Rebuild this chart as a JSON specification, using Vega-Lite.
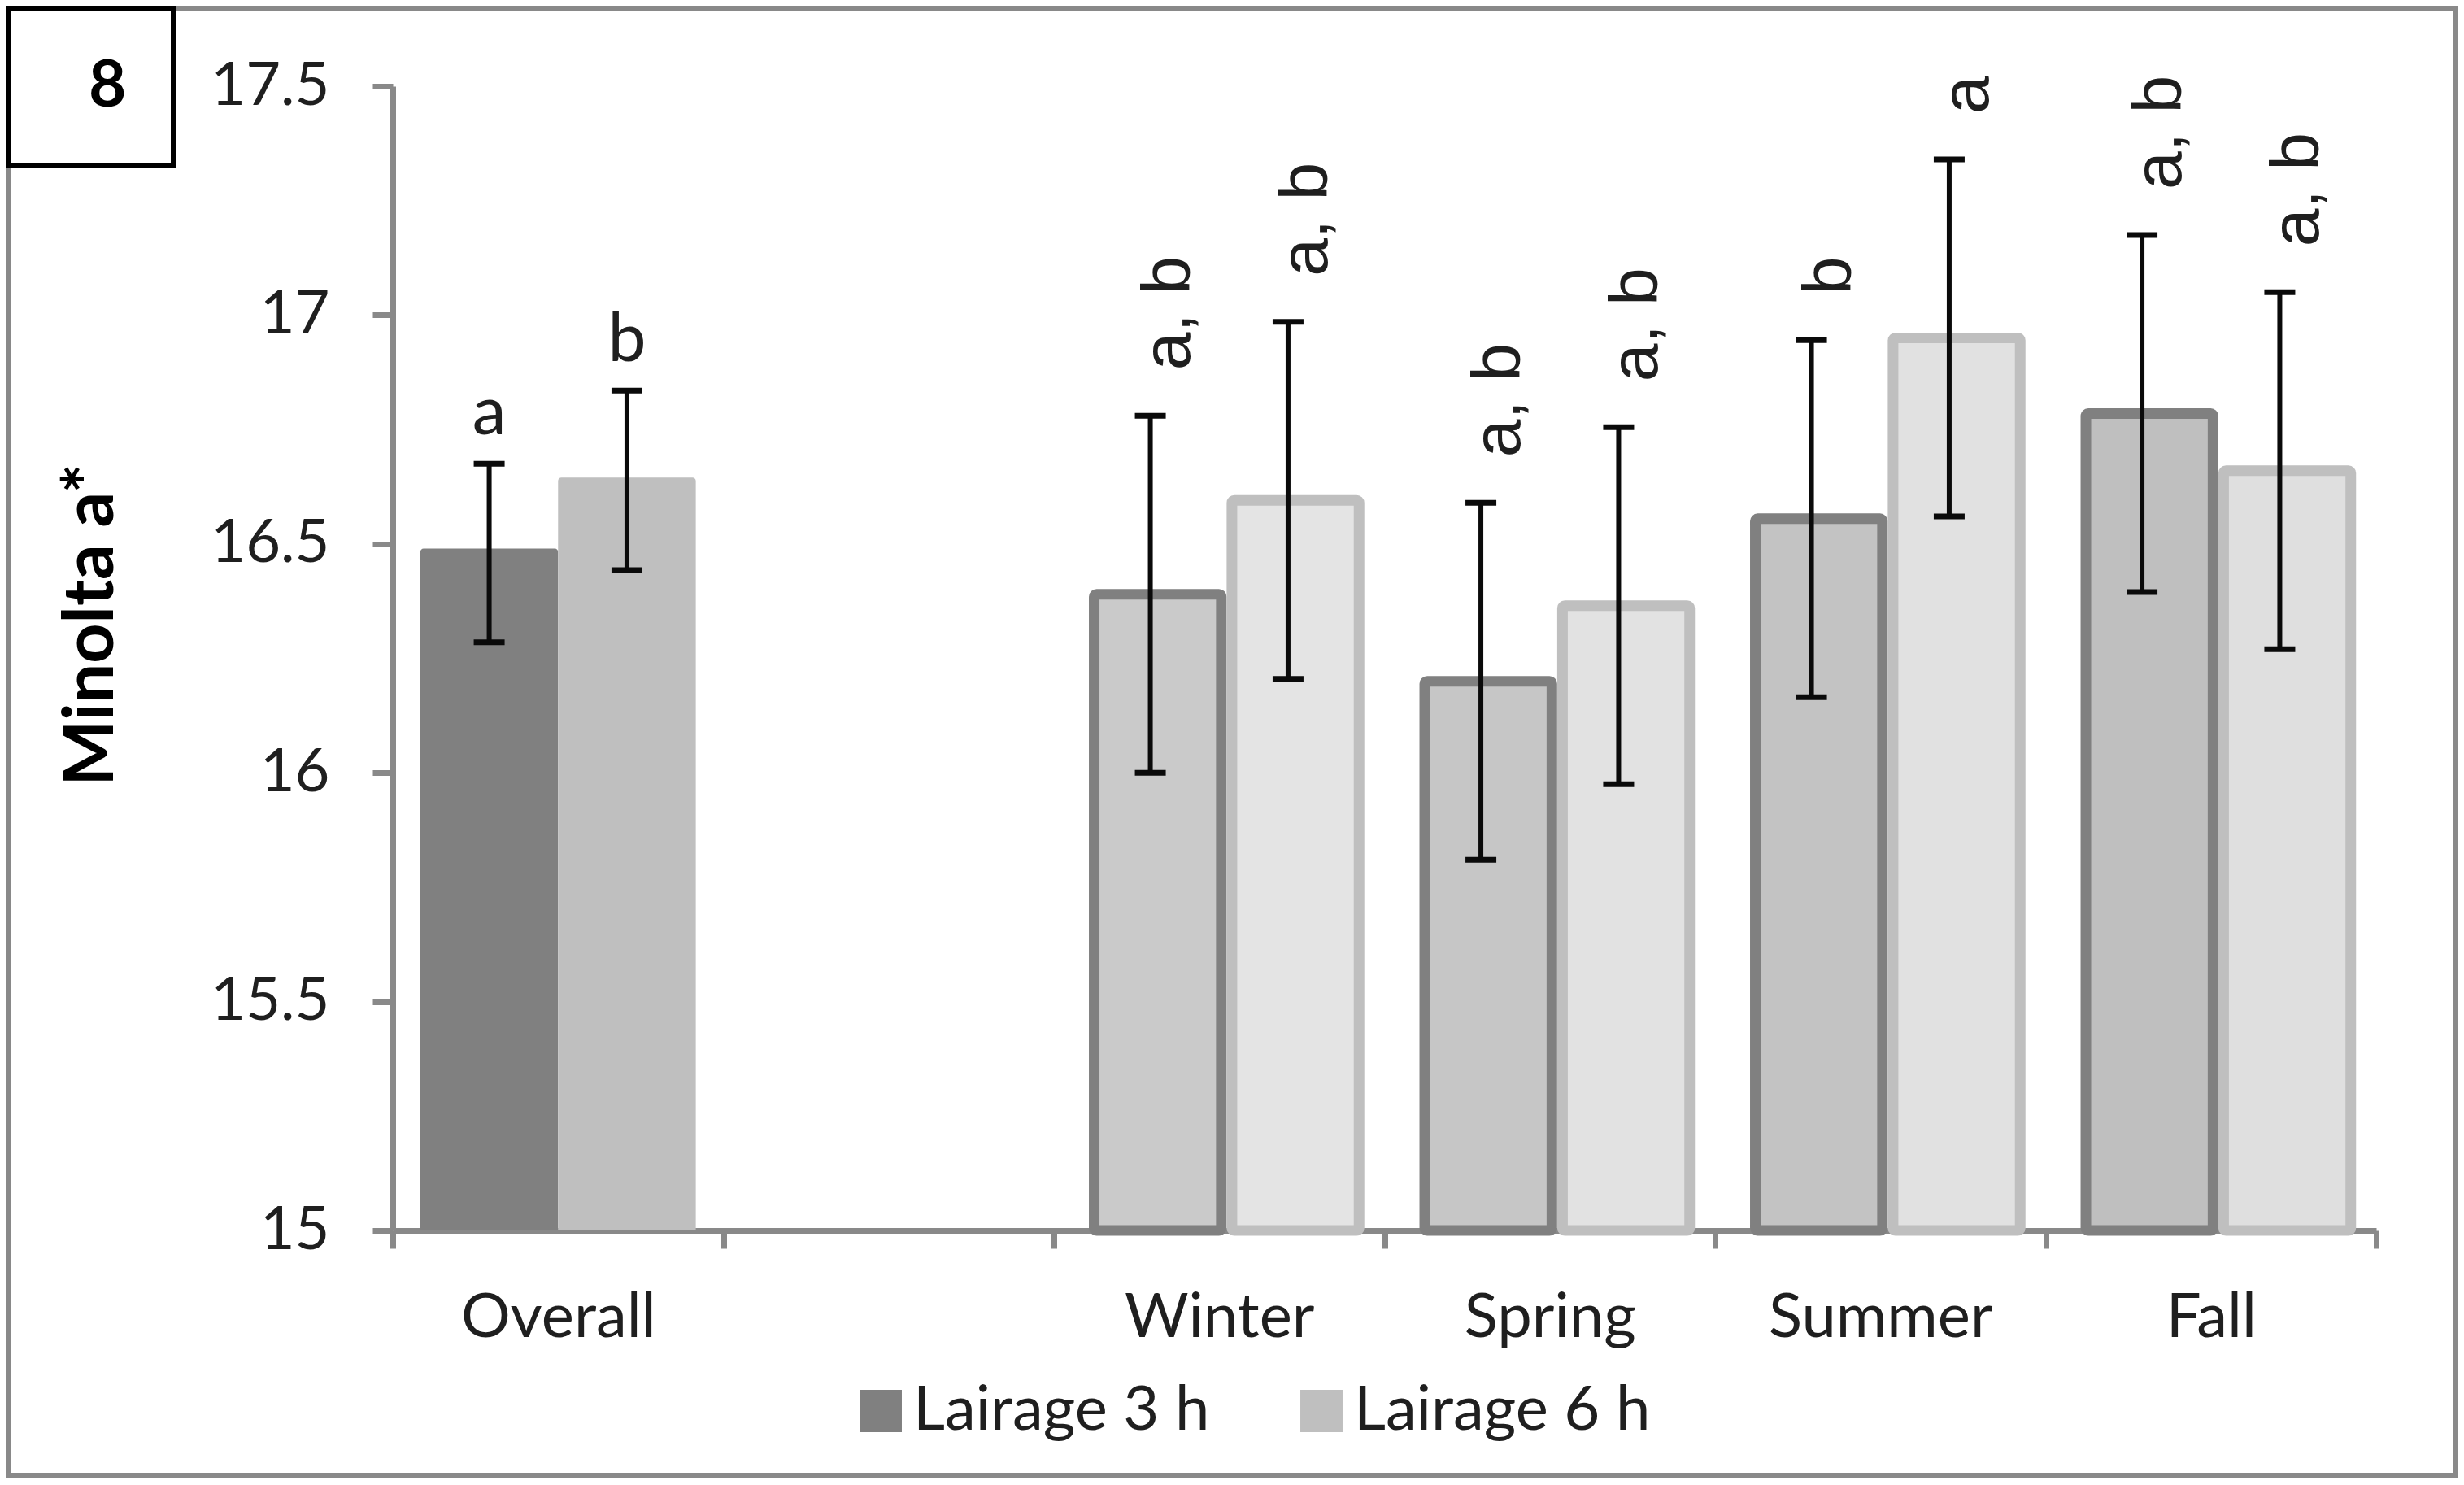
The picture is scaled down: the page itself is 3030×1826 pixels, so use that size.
{
  "$schema": "https://vega.github.io/schema/vega-lite/v6.json",
  "autosize": {"type": "none"},
  "padding": {"left": 10, "top": 10, "right": 10, "bottom": 12},
  "width": 3010,
  "height": 1804,
  "background": "white",
  "config": {
    "view": {"stroke": "#898989", "strokeWidth": 6},
    "font": "Lato",
    "axis": {"zindex": 1, "grid": false, "domainColor": "#898989", "domainWidth": 7, "tickColor": "#898989", "tickWidth": 7, "labelFont": "Lato", "labelColor": "#1f1f1f", "labelLimit": 0},
    "axisY": {"offset": -473, "tickSize": 25, "labelPadding": 53, "labelFontSize": 74, "tickCount": 5, "format": "~g",
      "titleFont": "Lato", "titleFontWeight": "bold", "titleFontSize": 86, "titleColor": "#000000",
      "titleAngle": 270, "titleX": -345, "titleY": 758, "titleAlign": "center", "titleBaseline": "alphabetic"},
    "axisX": {"offset": -301, "tickSize": 22, "tickBand": "extent", "labelPadding": 48, "labelFontSize": 76, "labelAngle": 0},
    "legend": {"strokeWidth": 6, "labelLimit": 0}
  },
  "data": {"values": [
    {"group": "Overall", "lairage": "Lairage 3 h", "mean": 16.49, "lower": 16.285, "upper": 16.675, "letter": "a"},
    {"group": "Overall", "lairage": "Lairage 6 h", "mean": 16.645, "lower": 16.443, "upper": 16.835, "letter": "b"},
    {"group": "Winter", "lairage": "Lairage 3 h", "mean": 16.39, "lower": 16.0, "upper": 16.78, "letter": "a, b"},
    {"group": "Winter", "lairage": "Lairage 6 h", "mean": 16.595, "lower": 16.205, "upper": 16.985, "letter": "a, b"},
    {"group": "Spring", "lairage": "Lairage 3 h", "mean": 16.2, "lower": 15.81, "upper": 16.59, "letter": "a, b"},
    {"group": "Spring", "lairage": "Lairage 6 h", "mean": 16.365, "lower": 15.975, "upper": 16.755, "letter": "a, b"},
    {"group": "Summer", "lairage": "Lairage 3 h", "mean": 16.555, "lower": 16.165, "upper": 16.945, "letter": "b"},
    {"group": "Summer", "lairage": "Lairage 6 h", "mean": 16.95, "lower": 16.56, "upper": 17.34, "letter": "a"},
    {"group": "Fall", "lairage": "Lairage 3 h", "mean": 16.785, "lower": 16.395, "upper": 17.175, "letter": "a, b"},
    {"group": "Fall", "lairage": "Lairage 6 h", "mean": 16.66, "lower": 16.27, "upper": 17.05, "letter": "a, b"}
  ]},
  "encoding": {
    "x": {"field": "group", "type": "nominal", "title": null,
      "scale": {"domain": ["Overall", " ", "Winter", "Spring", "Summer", "Fall"], "range": [473, 2912], "paddingInner": 0, "paddingOuter": 0}},
    "xOffset": {"field": "lairage", "type": "nominal", "scale": {"paddingInner": 0, "paddingOuter": 0.2}}
  },
  "layer": [
    {
      "transform": [{"filter": "datum.group === 'Overall'"}],
      "mark": {"type": "bar", "cornerRadiusTopLeft": 4, "cornerRadiusTopRight": 4},
      "encoding": {
        "y": {"field": "mean", "type": "quantitative", "title": "Minolta a*",
          "scale": {"domain": [15, 17.5], "range": [1503, 96], "nice": false, "zero": false}},
        "y2": {"datum": 15},
        "fill": {"field": "lairage", "type": "nominal",
          "scale": {"domain": ["Lairage 3 h", "Lairage 6 h"], "range": ["#808080", "#bfbfbf"]},
          "legend": {"orient": "none", "legendX": 1035, "legendY": 1687, "direction": "horizontal", "title": null,
            "padding": 0, "symbolType": "square", "symbolSize": 2700, "symbolStrokeWidth": 0, "symbolOpacity": 1,
            "labelFont": "Lato", "labelFontSize": 76, "labelColor": "#1f1f1f", "labelOffset": 2, "columnPadding": 99}}
      }
    },
    {
      "transform": [{"filter": "datum.group !== 'Overall'"}],
      "mark": {"type": "bar", "strokeWidth": 13, "width": {"band": 0.923}, "cornerRadius": 3},
      "encoding": {
        "y": {"field": "mean", "type": "quantitative", "title": "Minolta a*"},
        "y2": {"datum": 15},
        "fill": {"field": "lairage", "type": "nominal"},
        "stroke": {"field": "lairage", "type": "nominal",
          "scale": {"domain": ["Lairage 3 h", "Lairage 6 h"], "range": ["#808080", "#bfbfbf"]}, "legend": null},
        "fillOpacity": {"field": "group", "type": "nominal",
          "scale": {"domain": ["Winter", "Spring", "Summer", "Fall"], "range": [0.42, 0.5, 0.52, 0.33]}, "legend": null}
      }
    },
    {
      "mark": {"type": "rule", "strokeWidth": 6, "color": "#0a0a0a"},
      "encoding": {
        "y": {"field": "lower", "type": "quantitative", "title": "Minolta a*"},
        "y2": {"field": "upper"},
        "strokeDash": {"datum": "8",
          "legend": {"orient": "none", "legendX": 0, "legendY": 0, "title": null, "padding": 57,
            "symbolSize": 0, "symbolOpacity": 0, "symbolStrokeWidth": 0, "labelOffset": -38,
            "labelFont": "Lato", "labelFontWeight": "bold", "labelFontSize": 80, "labelColor": "#000000",
            "strokeColor": "#000000"}}
      }
    },
    {
      "mark": {"type": "tick", "orient": "horizontal", "size": 38, "thickness": 7, "color": "#0a0a0a", "opacity": 1},
      "encoding": {"y": {"field": "upper", "type": "quantitative", "title": "Minolta a*"}}
    },
    {
      "mark": {"type": "tick", "orient": "horizontal", "size": 38, "thickness": 7, "color": "#0a0a0a", "opacity": 1},
      "encoding": {"y": {"field": "lower", "type": "quantitative", "title": "Minolta a*"}}
    },
    {
      "transform": [{"filter": "datum.group === 'Overall'"}],
      "mark": {"type": "text", "font": "Lato", "fontSize": 84, "align": "center", "baseline": "alphabetic", "dy": -36, "color": "#1f1f1f"},
      "encoding": {
        "y": {"field": "upper", "type": "quantitative", "title": "Minolta a*"},
        "text": {"field": "letter"}
      }
    },
    {
      "transform": [{"filter": "datum.group !== 'Overall'"}],
      "mark": {"type": "text", "font": "Liberation Sans", "fontSize": 84, "angle": 270, "align": "left", "baseline": "alphabetic", "dx": 56, "dy": 48, "color": "#1f1f1f"},
      "encoding": {
        "y": {"field": "upper", "type": "quantitative", "title": "Minolta a*"},
        "text": {"field": "letter"}
      }
    }
  ]
}
